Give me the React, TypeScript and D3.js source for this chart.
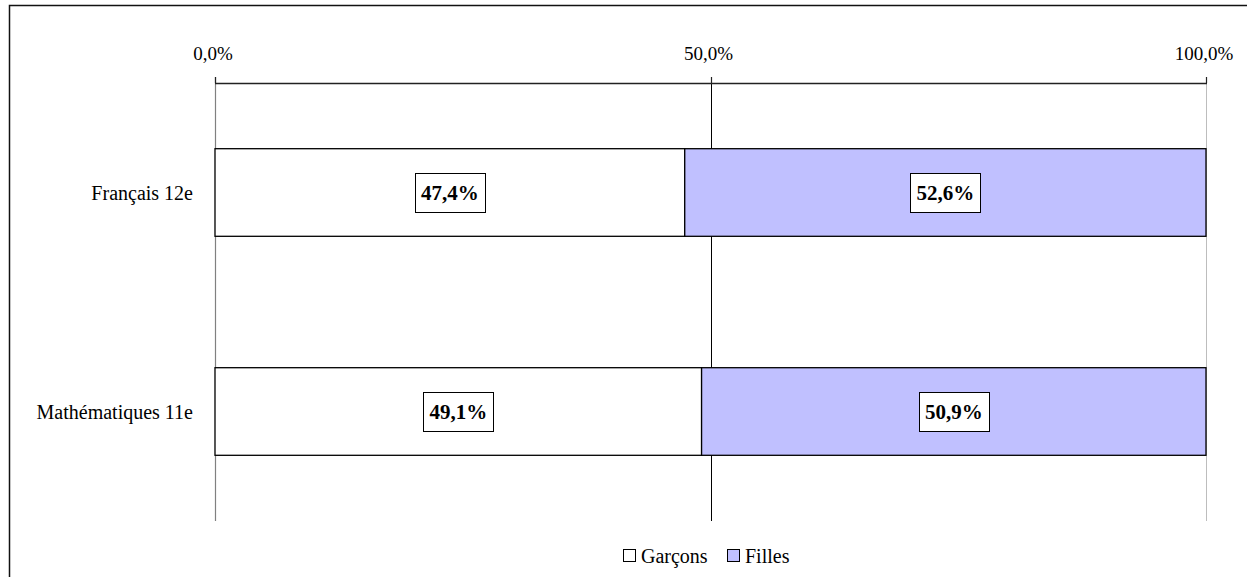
import React, { useEffect, useRef } from 'react';
import * as d3 from 'd3';

// catégories et parts (en %)
const categories = ['Français 12e', 'Mathématiques 11e'];
const garcons = [47.4, 49.1];
const filles = [52.6, 50.9];
const seriesNames = ['Garçons', 'Filles'];
const seriesColors = ['#ffffff', '#c0c0ff'];
const tickValues = [0, 50, 100];

const fmt = (v: number) => v.toFixed(1).replace('.', ',') + '%';

export default function App() {
  const svgRef = useRef<SVGSVGElement>(null);

  useEffect(() => {
    if (!svgRef.current) return;
    const svg = d3.select(svgRef.current);
    svg.selectAll('*').remove();

    const left = 215, right = 1206, top = 83, bottom = 521;

    // cadre extérieur (coupé à droite et en bas)
    svg.append('rect')
      .attr('x', 9.5).attr('y', 5.5)
      .attr('width', 1400).attr('height', 800)
      .attr('fill', 'white').attr('stroke', '#111').attr('stroke-width', 1.5);

    const x = d3.scaleLinear().domain([0, 100]).range([left, right]);
    const y = d3.scaleBand<string>().domain(categories).range([top, bottom]).padding(0);
    const barH = y.step() * 0.4;

    // quadrillage vertical
    svg.append('g').selectAll('line')
      .data(tickValues.slice(1))
      .join('line')
      .attr('x1', d => Math.round(x(d)) + 0.5).attr('x2', d => Math.round(x(d)) + 0.5)
      .attr('y1', top).attr('y2', bottom)
      .attr('stroke', d => (d === 100 ? '#bdbdbd' : '#000'))
      .attr('stroke-width', 1);

    // axe des catégories (gauche)
    svg.append('line')
      .attr('x1', left + 0.5).attr('x2', left + 0.5)
      .attr('y1', top - 6).attr('y2', bottom)
      .attr('stroke', '#808080').attr('stroke-width', 1.2);

    // axe des valeurs en haut
    svg.append('line')
      .attr('x1', left).attr('x2', right + 1)
      .attr('y1', top + 0.5).attr('y2', top + 0.5)
      .attr('stroke', '#222').attr('stroke-width', 1.3);
    svg.append('g').selectAll('line')
      .data(tickValues)
      .join('line')
      .attr('x1', d => Math.round(x(d)) + 0.5).attr('x2', d => Math.round(x(d)) + 0.5)
      .attr('y1', top - 6).attr('y2', top)
      .attr('stroke', '#222').attr('stroke-width', 1.2);
    svg.append('g').selectAll('text')
      .data(tickValues)
      .join('text')
      .attr('x', d => x(d) - 2).attr('y', 60)
      .attr('text-anchor', 'middle')
      .attr('font-size', 19)
      .text(d => fmt(d));

    // libellés des catégories
    svg.append('g').selectAll('text')
      .data(categories)
      .join('text')
      .attr('x', 193)
      .attr('y', d => (y(d) ?? 0) + y.step() / 2)
      .attr('dy', '0.35em')
      .attr('text-anchor', 'end')
      .attr('font-size', 20)
      .text(d => d);

    // barres empilées
    const rows = categories.map((c, i) => ({ c, vals: [garcons[i], filles[i]] }));
    rows.forEach(r => {
      const cy = (y(r.c) ?? 0) + y.step() / 2;
      let acc = 0;
      r.vals.forEach((v, k) => {
        const x0 = x(acc), x1 = x(acc + v);
        acc += v;
        svg.append('rect')
          .attr('x', x0).attr('y', cy - barH / 2)
          .attr('width', x1 - x0).attr('height', barH)
          .attr('fill', seriesColors[k])
          .attr('stroke', '#000').attr('stroke-width', 1.3);

        const g = svg.append('g');
        const t = g.append('text')
          .attr('x', (x0 + x1) / 2).attr('y', cy)
          .attr('dy', '0.35em')
          .attr('text-anchor', 'middle')
          .attr('font-size', 21).attr('font-weight', 'bold')
          .text(fmt(v));
        const w = (t.node() as SVGTextElement).getComputedTextLength();
        g.insert('rect', 'text')
          .attr('x', Math.round((x0 + x1) / 2 - w / 2 - 6) + 0.5)
          .attr('y', Math.round(cy - 20) + 0.5)
          .attr('width', Math.round(w + 12)).attr('height', 39)
          .attr('fill', 'white').attr('stroke', '#000').attr('stroke-width', 1);
      });
    });

    // légende
    const legend = svg.append('g');
    const items = [
      { name: seriesNames[0], color: seriesColors[0], x: 623 },
      { name: seriesNames[1], color: seriesColors[1], x: 727 },
    ];
    items.forEach(it => {
      legend.append('rect')
        .attr('x', it.x + 0.5).attr('y', 549.5)
        .attr('width', 12).attr('height', 12)
        .attr('fill', it.color).attr('stroke', '#000').attr('stroke-width', 1);
      legend.append('text')
        .attr('x', it.x + 18).attr('y', 556)
        .attr('dy', '0.35em')
        .attr('font-size', 20)
        .text(it.name);
    });
  }, []);

  return (
    <svg
      ref={svgRef}
      width={1247}
      height={577}
      style={{
        position: 'absolute', left: 0, top: 0, background: 'white',
        fontFamily: "'Liberation Serif', 'Times New Roman', 'DejaVu Serif', serif",
      }}
    />
  );
}
